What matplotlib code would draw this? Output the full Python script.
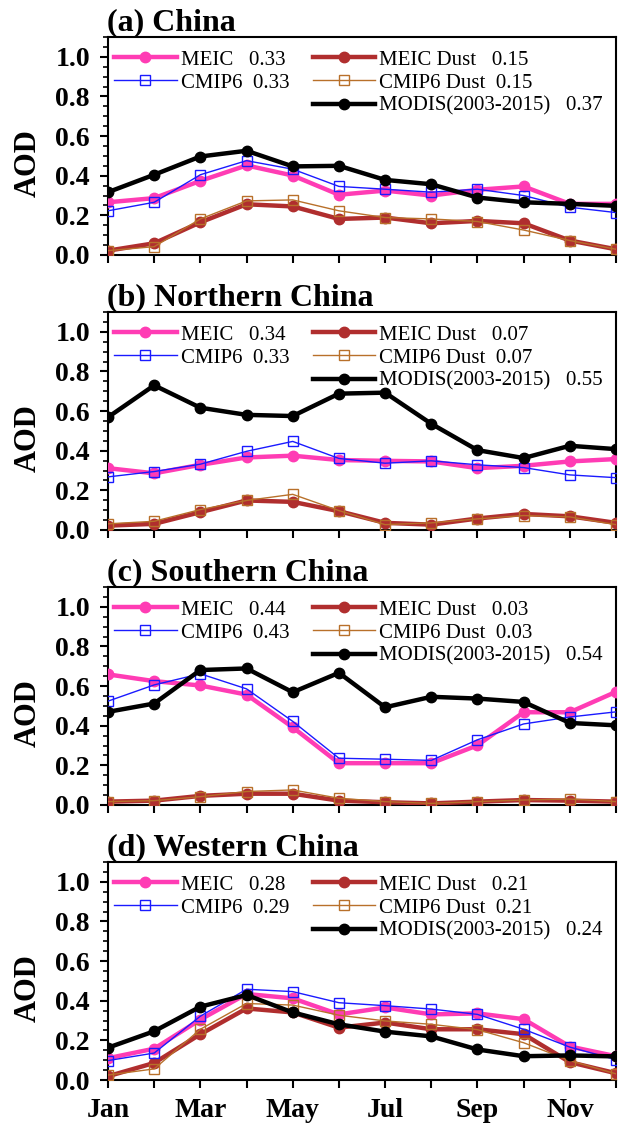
import matplotlib
matplotlib.use("Agg")
import matplotlib.pyplot as plt
from matplotlib.ticker import MultipleLocator

plt.rcParams["font.family"] = ["Liberation Serif", "DejaVu Serif"]

# ============================================================
#   DADOS
# ============================================================

meses = list(range(1, 13))
rotulos_meses = ["Jan", "", "Mar", "", "May", "", "Jul", "", "Sep", "", "Nov", ""]

titulos = ["(a) China", "(b) Northern China", "(c) Southern China", "(d) Western China"]

# (a) China
meic_a = [0.266, 0.287, 0.374, 0.452, 0.401, 0.304, 0.325, 0.300, 0.329, 0.346, 0.258, 0.258]
cmip6_a = [0.223, 0.266, 0.405, 0.476, 0.433, 0.346, 0.332, 0.317, 0.332, 0.300, 0.241, 0.214]
meic_dust_a = [0.022, 0.059, 0.165, 0.256, 0.245, 0.182, 0.189, 0.160, 0.172, 0.160, 0.073, 0.029]
cmip6_dust_a = [0.022, 0.042, 0.182, 0.273, 0.278, 0.223, 0.189, 0.182, 0.169, 0.126, 0.073, 0.029]
modis_a = [0.317, 0.405, 0.497, 0.526, 0.447, 0.450, 0.379, 0.357, 0.290, 0.266, 0.258, 0.248]

# (b) Northern China
meic_b = [0.312, 0.286, 0.329, 0.366, 0.375, 0.353, 0.349, 0.346, 0.312, 0.324, 0.346, 0.358]
cmip6_b = [0.268, 0.295, 0.332, 0.397, 0.447, 0.361, 0.337, 0.349, 0.329, 0.315, 0.278, 0.264]
meic_dust_b = [0.022, 0.031, 0.090, 0.149, 0.142, 0.095, 0.036, 0.027, 0.058, 0.081, 0.069, 0.036]
cmip6_dust_b = [0.031, 0.044, 0.103, 0.149, 0.180, 0.098, 0.027, 0.036, 0.056, 0.073, 0.066, 0.027]
modis_b = [0.569, 0.730, 0.617, 0.581, 0.575, 0.688, 0.693, 0.536, 0.403, 0.363, 0.425, 0.408]

# (c) Southern China
meic_c = [0.659, 0.625, 0.603, 0.557, 0.392, 0.211, 0.211, 0.211, 0.301, 0.468, 0.468, 0.571]
cmip6_c = [0.524, 0.606, 0.662, 0.586, 0.422, 0.236, 0.231, 0.225, 0.329, 0.409, 0.444, 0.470]
meic_dust_c = [0.017, 0.022, 0.046, 0.057, 0.057, 0.022, 0.014, 0.008, 0.017, 0.025, 0.022, 0.017]
cmip6_dust_c = [0.017, 0.022, 0.042, 0.068, 0.076, 0.034, 0.017, 0.008, 0.017, 0.025, 0.030, 0.017]
modis_c = [0.470, 0.512, 0.681, 0.689, 0.569, 0.667, 0.493, 0.546, 0.537, 0.520, 0.414, 0.402]

# (d) Western China
meic_d = [0.110, 0.158, 0.305, 0.434, 0.412, 0.331, 0.366, 0.331, 0.336, 0.307, 0.169, 0.120]
cmip6_d = [0.098, 0.136, 0.322, 0.458, 0.446, 0.390, 0.375, 0.358, 0.331, 0.256, 0.166, 0.103]
meic_dust_d = [0.019, 0.086, 0.231, 0.361, 0.341, 0.264, 0.290, 0.256, 0.256, 0.231, 0.090, 0.034]
cmip6_dust_d = [0.025, 0.056, 0.256, 0.386, 0.378, 0.327, 0.298, 0.281, 0.254, 0.188, 0.098, 0.031]
modis_d = [0.163, 0.246, 0.370, 0.429, 0.341, 0.281, 0.244, 0.220, 0.154, 0.120, 0.124, 0.119]

# médias mostradas na legenda: MEIC, CMIP6, MEIC Dust, CMIP6 Dust, MODIS
medias = [
    ["0.33", "0.33", "0.15", "0.15", "0.37"],
    ["0.34", "0.33", "0.07", "0.07", "0.55"],
    ["0.44", "0.43", "0.03", "0.03", "0.54"],
    ["0.28", "0.29", "0.21", "0.21", "0.24"],
]

series = [
    (meic_a, cmip6_a, meic_dust_a, cmip6_dust_a, modis_a),
    (meic_b, cmip6_b, meic_dust_b, cmip6_dust_b, modis_b),
    (meic_c, cmip6_c, meic_dust_c, cmip6_dust_c, modis_c),
    (meic_d, cmip6_d, meic_dust_d, cmip6_dust_d, modis_d),
]

# ============================================================
#   ESTILOS
# ============================================================

ROSA = "#ff3cb4"
AZUL = "#1a1aff"
MARROM = "#b02e2e"
MARROM_CLARO = "#b8702a"

estilo_meic = dict(color=ROSA, lw=3.2, marker="o", ms=7.5, zorder=4)
estilo_cmip6 = dict(color=AZUL, lw=1.0, marker="s", ms=7, mfc="none", mew=1.0, zorder=5)
estilo_meic_dust = dict(color=MARROM, lw=3.2, marker="o", ms=7.5, zorder=4)
estilo_cmip6_dust = dict(color=MARROM_CLARO, lw=1.0, marker="s", ms=7, mfc="none", mew=1.0, zorder=5)
estilo_modis = dict(color="black", lw=3.2, marker="o", ms=7.5, zorder=6)

fig = plt.figure(figsize=(6.25, 11.26), dpi=100)

esquerda = 108 / 625
largura = (616 - 108) / 625
altura = 218 / 1126
fundos = [255, 530, 805, 1080]

leg_kw = dict(frameon=False, fontsize=15, handlelength=3.0, handletextpad=0.2,
              labelspacing=0.17, borderpad=0, borderaxespad=0, loc="upper left")

for i in range(4):
    ax = fig.add_axes([esquerda, 1 - fundos[i] / 1126, largura, altura])
    meic, cmip6, meic_dust, cmip6_dust, modis = series[i]
    m = medias[i]

    l1, = ax.plot(meses, meic, **estilo_meic)
    l2, = ax.plot(meses, cmip6, **estilo_cmip6)
    l3, = ax.plot(meses, meic_dust, **estilo_meic_dust)
    l4, = ax.plot(meses, cmip6_dust, **estilo_cmip6_dust)
    l5, = ax.plot(meses, modis, **estilo_modis)

    ax.set_xlim(1, 12)
    ax.set_ylim(0, 1.1)
    ax.set_xticks(meses)
    if i == 3:
        ax.set_xticklabels(rotulos_meses, fontsize=20, fontweight="bold")
    else:
        ax.set_xticklabels([])
    ax.yaxis.set_major_locator(MultipleLocator(0.2))
    ax.yaxis.set_minor_locator(MultipleLocator(0.05))
    ax.set_yticks([0.0, 0.2, 0.4, 0.6, 0.8, 1.0])
    ax.set_yticklabels(["0.0", "0.2", "0.4", "0.6", "0.8", "1.0"], fontsize=20, fontweight="bold")
    ax.tick_params(axis="both", which="major", direction="out", length=6, width=1.5, pad=7,
                   top=False, right=False)
    ax.tick_params(axis="y", which="minor", direction="out", length=3.5, width=1.2, right=False)
    for sp in ax.spines.values():
        sp.set_linewidth(1.5)

    ax.set_ylabel("AOD", fontsize=22, fontweight="bold")
    ax.yaxis.set_label_coords(-0.128, 0.42)
    ax.set_title(titulos[i], loc="left", fontsize=23, fontweight="bold", pad=3, x=-0.002)

    leg1 = ax.legend([l1, l2], [f"MEIC   {m[0]}", f"CMIP6  {m[1]}"],
                     bbox_to_anchor=(0.012, 0.94), **leg_kw)
    ax.add_artist(leg1)
    ax.legend([l3, l4, l5], [f"MEIC Dust   {m[2]}", f"CMIP6 Dust  {m[3]}",
                             f"MODIS(2003-2015)   {m[4]}"],
              bbox_to_anchor=(0.403, 0.94), **leg_kw)

fig.savefig("out.png", dpi=100)
